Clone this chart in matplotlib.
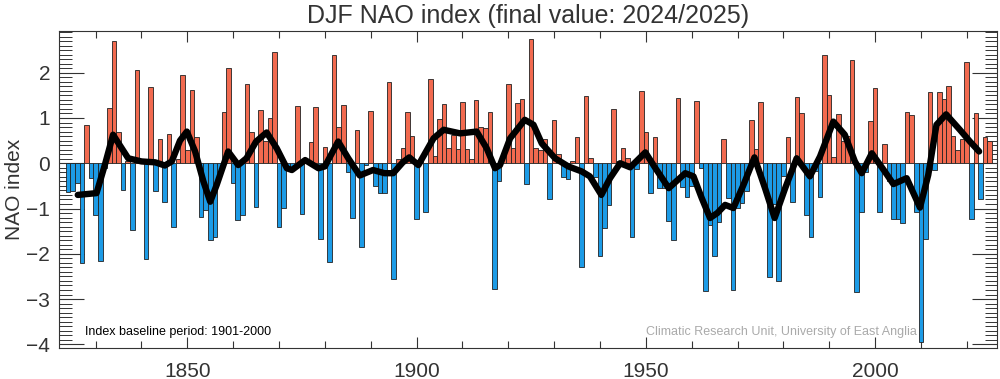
import numpy as np
import matplotlib
matplotlib.use("Agg")
import matplotlib.pyplot as plt
from matplotlib.ticker import MultipleLocator

plt.rcParams['font.family'] = ['Liberation Sans', 'DejaVu Sans']

# DJF NAO index, one value per winter (labelled by the Jan/Feb year)
first_year = 1824
nao = [
    -0.64, -0.61, -0.44, -2.20, 0.85, -0.32, -1.14, -2.15, -0.10, 1.21,   # 1824-1833
    2.70, 0.68, -0.59, 0.05, -1.47, 2.06, 0.05, -2.12, 1.69, -0.61,       # 1834-1843
    0.54, -0.85, 0.64, -1.41, 0.10, 1.96, 0.29, 1.62, 0.59, -1.18,        # 1844-1853
    -1.03, -1.69, -1.62, -0.20, 1.13, 2.10, -0.44, -1.25, -1.15, 1.76,    # 1854-1863
    0.70, -0.96, 1.17, 0.50, 1.00, 2.45, -1.40, -0.98, -0.15, -0.10,      # 1864-1873
    1.27, -1.13, 0.05, 0.46, 1.24, -1.67, 0.36, -2.18, 2.40, 0.79,        # 1874-1883
    1.29, -0.20, -1.21, 0.74, -1.84, -0.04, 1.15, -0.50, -0.66, -0.66,    # 1884-1893
    1.79, -2.55, 0.09, 0.33, 1.14, 0.60, -1.24, 0.05, -1.08, 1.86,        # 1894-1903
    0.16, 0.98, 1.30, 0.33, 0.63, 0.31, 1.36, 0.32, 0.10, 1.40,           # 1904-1913
    0.81, 0.77, 1.13, -2.77, -0.40, 0.15, 1.75, 0.33, 1.32, 1.42,         # 1914-1923
    -0.46, 2.74, 0.33, 0.29, 0.54, -0.79, 0.96, 0.20, -0.31, -0.35,       # 1924-1933
    0.04, 0.57, -2.29, 1.49, 0.11, -0.30, -2.04, -1.43, -0.92, 1.20,      # 1934-1943
    0.05, 0.33, 0.11, -1.62, -0.13, 1.60, 0.70, -0.66, 0.59, -0.55,       # 1944-1953
    -0.55, -1.27, -1.69, 1.45, -0.53, -0.74, -0.51, 1.38, -0.11, -2.83,   # 1954-1963
    -1.36, -2.04, -1.30, 0.54, -0.76, -2.79, -0.98, -0.88, -0.61, 0.96,   # 1964-1973
    0.32, 1.36, -0.50, -2.52, -0.90, -2.60, -0.29, 0.59, -0.85, 1.47,     # 1974-1983
    1.10, -1.15, -1.62, -0.18, -0.75, 2.39, 1.51, 0.13, 1.08, 0.50,       # 1984-1993
    0.60, 2.29, -2.85, -1.08, -0.20, 0.93, 1.67, -1.07, 0.42, -0.40,      # 1994-2003
    -1.24, -1.24, -1.32, 1.13, 1.07, -1.08, -3.96, -1.68, 1.57, -0.15,    # 2004-2013
    1.58, 1.43, 1.71, 0.60, 0.29, 0.54, 2.24, -1.24, 1.12, -0.79,         # 2014-2023
    0.59, 0.50,                                                           # 2024-2025
]
years = np.arange(first_year, first_year + len(nao))
nao = np.array(nao)

# smoothed curve
smooth_years = [1826.1, 1830.2, 1832.0, 1833.8, 1835.7, 1837.1, 1840.0, 1843.0, 1845.1,
                1846.6, 1848.4, 1849.9, 1851.7, 1853.5, 1855.0, 1856.4, 1858.9, 1861.1,
                1862.9, 1865.0, 1867.3, 1869.5, 1871.7, 1872.8, 1875.7, 1878.6, 1880.0,
                1882.9, 1885.1, 1887.6, 1890.5, 1893.0, 1894.9, 1897.0, 1898.4, 1900.4,
                1903.7, 1905.9, 1909.5, 1913.1, 1915.3, 1917.1, 1918.2, 1920.4, 1923.6,
                1925.5, 1927.3, 1930.2, 1933.1, 1936.0, 1937.8, 1940.3, 1942.2, 1944.4,
                1946.6, 1949.9, 1952.1, 1955.0, 1958.6, 1960.4, 1962.2, 1964.0, 1965.6,
                1967.3, 1969.1, 1971.3, 1973.7, 1976.0, 1978.1, 1980.4, 1982.9, 1985.8,
                1988.0, 1990.9, 1993.4, 1995.6, 1997.1, 1999.3, 2001.9, 2004.0, 2006.9,
                2009.8, 2011.6, 2013.4, 2015.5, 2018.5, 2020.7, 2022.7]
smooth_vals = [-0.70, -0.66, -0.04, 0.63, 0.33, 0.11, 0.04, 0.02, -0.05,
               0.04, 0.50, 0.70, 0.26, -0.40, -0.85, -0.48, 0.26, -0.04,
               0.11, 0.48, 0.68, 0.33, -0.11, -0.15, 0.07, -0.11, -0.07,
               0.48, 0.11, -0.27, -0.15, -0.22, -0.22, 0.02, 0.13, -0.04,
               0.55, 0.74, 0.66, 0.70, 0.33, -0.11, -0.04, 0.55, 0.96,
               0.85, 0.44, 0.11, -0.07, -0.18, -0.29, -0.70, -0.33, 0.00,
               -0.09, 0.24, -0.11, -0.55, -0.22, -0.29, -0.77, -1.21, -1.10,
               -0.92, -0.99, -0.48, 0.13, -0.55, -1.21, -0.55, 0.11, -0.29,
               0.15, 0.92, 0.63, 0.04, -0.22, 0.22, -0.15, -0.46, -0.33,
               -0.98, -0.26, 0.85, 1.08, 0.74, 0.48, 0.26]

fig = plt.figure(figsize=(10, 3.79), dpi=100)
ax = fig.add_axes([0.0585, 0.082, 0.9385, 0.836])

colors = np.where(nao >= 0, '#f26a4f', '#1c9be6')
ax.bar(years, nao, width=1.0, color=colors, edgecolor='#222222', linewidth=0.6, zorder=2)
ax.plot(smooth_years, smooth_vals, color='black', linewidth=4.6,
        solid_joinstyle='round', solid_capstyle='round', zorder=3)

ax.set_xlim(1821.9, 2026.6)
ax.set_ylim(-4.08, 2.92)

ax.xaxis.set_major_locator(MultipleLocator(50))
ax.xaxis.set_minor_locator(MultipleLocator(10))
ax.yaxis.set_major_locator(MultipleLocator(1))
ax.yaxis.set_minor_locator(MultipleLocator(0.1))
ax.tick_params(axis='x', which='major', direction='in', length=8, width=0.8,
               top=True, bottom=True, labelsize=15, pad=10, colors='#333333')
ax.tick_params(axis='x', which='minor', direction='in', length=5, width=0.8,
               top=True, bottom=True, colors='#333333')
ax.tick_params(axis='y', which='major', direction='in', length=18, width=0.8,
               left=True, right=True, labelsize=15, pad=6, colors='#333333')
ax.tick_params(axis='y', which='minor', direction='in', length=9, width=0.7,
               left=True, right=True, colors='#333333')

for s in ax.spines.values():
    s.set_color('#333333')
    s.set_linewidth(0.8)

ax.set_ylabel('NAO index', fontsize=15, color='#333333', labelpad=2)
ax.set_title('DJF NAO index (final value: 2024/2025)', fontsize=18, color='#333333', pad=6)

ax.text(0.028, 0.03, 'Index baseline period: 1901-2000', transform=ax.transAxes,
        fontsize=9, color='black', ha='left', va='bottom')
ax.text(0.915, 0.03, 'Climatic Research Unit, University of East Anglia', transform=ax.transAxes,
        fontsize=9, color='#aaaaaa', ha='right', va='bottom')

fig.savefig('out.png', dpi=100)
